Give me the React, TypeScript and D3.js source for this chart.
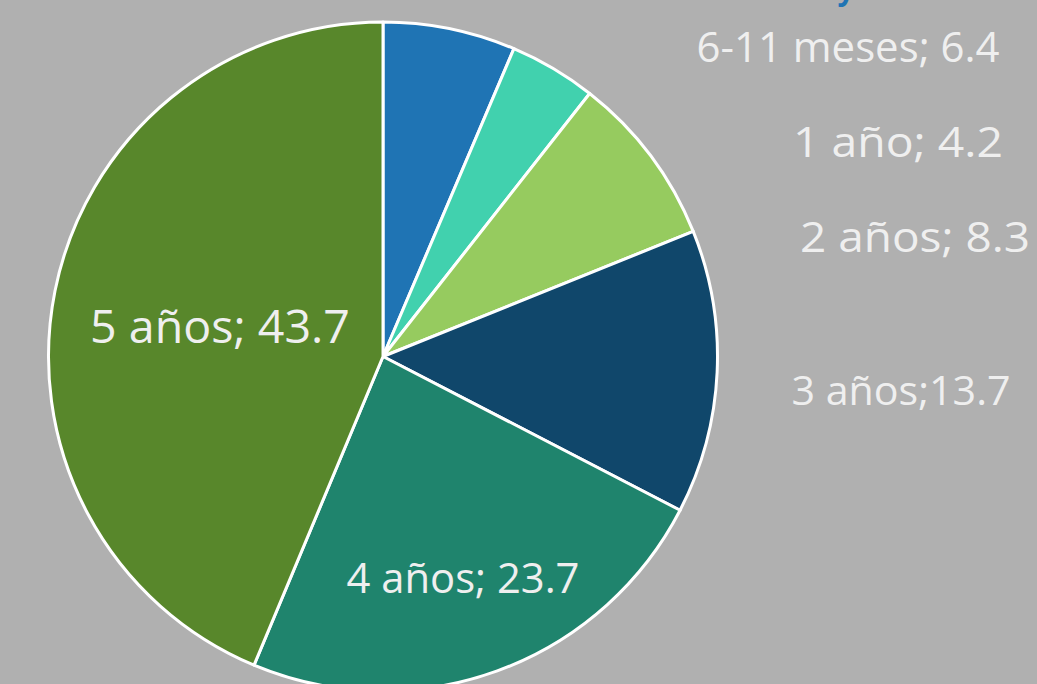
import React from "react";
import * as d3 from "d3";

const categories = ["6-11 meses", "1 año", "2 años", "3 años", "4 años", "5 años"];
const values = [6.4, 4.2, 8.3, 13.7, 23.7, 43.7];
const labelTexts = ["6-11 meses; 6.4", "1 año; 4.2", "2 años; 8.3", "3 años;13.7", "4 años; 23.7", "5 años; 43.7"];
const colors = ["#1f74b4", "#41d1ae", "#96cb5f", "#10476b", "#1f846d", "#58872b"];

// label layout: center x, baseline y, target width, font size
const labelLayout = [
  { x: 848, y: 62, w: 303, fs: 42 },
  { x: 898, y: 157, w: 210, fs: 42 },
  { x: 915, y: 252, w: 230, fs: 42 },
  { x: 901, y: 405, w: 219, fs: 40 },
  { x: 463, y: 593, w: 233, fs: 42 },
  { x: 220, y: 343, w: 260, fs: 46 },
];

const W = 1037;
const H = 684;
const cx = 383;
const cy = 356.5;
const R = 334.5;

export default function App() {
  const pie = d3.pie<number>().sort(null).value((d) => d)(values);
  const arc = d3.arc<d3.PieArcDatum<number>>().innerRadius(0).outerRadius(R);
  return (
    <svg
      width={W}
      height={H}
      style={{ position: "absolute", left: 0, top: 0, display: "block" }}
    >
      <rect x={0} y={0} width={W} height={H} fill="#b0b0b0" />
      <text
        x={846}
        y={0}
        fill="#1f74b4"
        fontFamily="Open Sans, sans-serif"
        fontWeight="bold"
        fontSize={30}
        textAnchor="middle"
      >
        y
      </text>
      <g transform={`translate(${cx},${cy})`}>
        {pie.map((p, i) => (
          <path
            key={categories[i]}
            d={arc(p) || ""}
            fill={colors[i]}
            stroke="#ffffff"
            strokeWidth={3}
            strokeLinejoin="round"
          />
        ))}
      </g>
      {labelTexts.map((t, i) => (
        <text
          key={t}
          x={labelLayout[i].x}
          y={labelLayout[i].y}
          textAnchor="middle"
          fill="#efefef"
          fontFamily="Open Sans, sans-serif"
          fontSize={labelLayout[i].fs}
          textLength={labelLayout[i].w}
          lengthAdjust="spacingAndGlyphs"
        >
          {t}
        </text>
      ))}
    </svg>
  );
}
